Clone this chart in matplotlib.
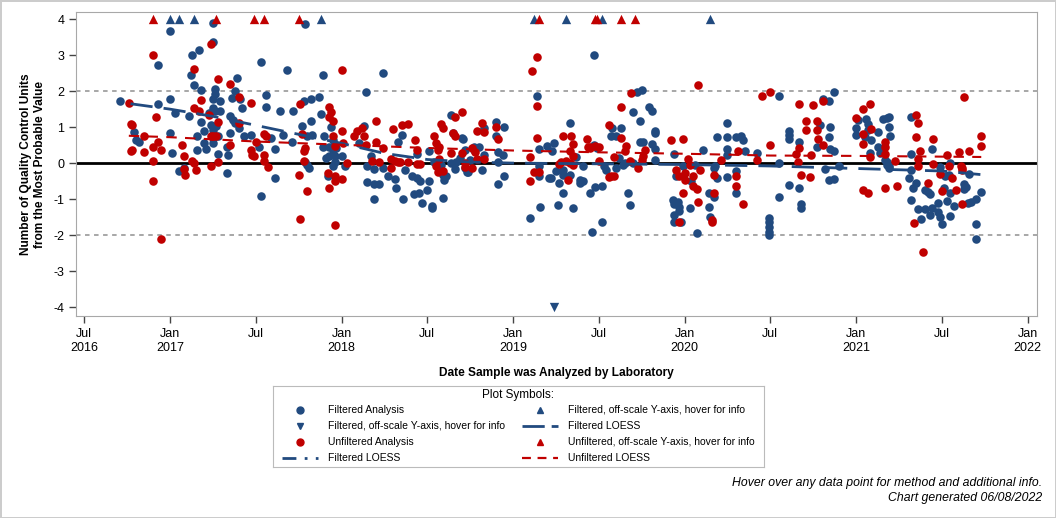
import matplotlib
matplotlib.use("Agg")
from matplotlib import pyplot as plt

plt.rcParams['font.family'] = ['Liberation Sans', 'DejaVu Sans']
plt.rcParams['axes.unicode_minus'] = False

# dates are decimal years
filt_x = [
    2016.71, 2016.79, 2016.80, 2016.82, 2016.93, 2016.93, 2017.0, 2017.0, 2017.0, 2017.01,
    2017.03, 2017.05, 2017.08, 2017.11, 2017.12, 2017.13, 2017.14, 2017.16, 2017.16, 2017.17,
    2017.18, 2017.18, 2017.2, 2017.2, 2017.21, 2017.23, 2017.24, 2017.25, 2017.25, 2017.25,
    2017.26, 2017.26, 2017.25, 2017.25, 2017.26, 2017.25, 2017.25, 2017.27, 2017.28, 2017.29,
    2017.29, 2017.28, 2017.33, 2017.33, 2017.34, 2017.35, 2017.35, 2017.36, 2017.37, 2017.38,
    2017.38, 2017.39, 2017.4, 2017.41, 2017.42, 2017.43, 2017.47, 2017.52, 2017.53, 2017.53,
    2017.56, 2017.56, 2017.59, 2017.61, 2017.61, 2017.64, 2017.66, 2017.68, 2017.71, 2017.72,
    2017.77, 2017.78, 2017.79, 2017.8, 2017.81, 2017.79, 2017.80, 2017.82, 2017.82, 2017.83,
    2017.87, 2017.88, 2017.89, 2017.89, 2017.9, 2017.91, 2017.92, 2017.93, 2017.93, 2017.94,
    2017.95, 2017.95, 2017.96, 2017.96, 2017.95, 2017.97,
    2018.0, 2018.02, 2018.1, 2018.13, 2018.14, 2018.15, 2018.15, 2018.17, 2018.19, 2018.19,
    2018.19, 2018.22, 2018.24, 2018.24, 2018.27, 2018.31, 2018.32, 2018.33, 2018.35, 2018.36,
    2018.37, 2018.41, 2018.42, 2018.44, 2018.45, 2018.46, 2018.47, 2018.44, 2018.5, 2018.51,
    2018.51, 2018.53, 2018.53, 2018.54, 2018.58, 2018.59, 2018.59, 2018.6, 2018.61, 2018.64,
    2018.64, 2018.65, 2018.66, 2018.67, 2018.69, 2018.7, 2018.71, 2018.72, 2018.72, 2018.73,
    2018.74, 2018.75, 2018.77, 2018.77, 2018.8, 2018.82, 2018.83, 2018.83, 2018.9, 2018.9,
    2018.91, 2018.91, 2018.91, 2018.94, 2018.95, 2018.95,
    2019.1, 2019.14, 2019.15, 2019.15, 2019.15, 2019.16, 2019.2, 2019.21, 2019.22, 2019.23,
    2019.24, 2019.25, 2019.26, 2019.27, 2019.29, 2019.29, 2019.29, 2019.33, 2019.33, 2019.35,
    2019.37, 2019.39, 2019.39, 2019.41, 2019.41, 2019.45, 2019.46, 2019.47, 2019.47, 2019.48,
    2019.49, 2019.52, 2019.52, 2019.53, 2019.54, 2019.57, 2019.58, 2019.6, 2019.6, 2019.62,
    2019.63, 2019.64, 2019.65, 2019.67, 2019.68, 2019.7, 2019.7, 2019.72, 2019.74, 2019.74,
    2019.75, 2019.76, 2019.79, 2019.81, 2019.81, 2019.83, 2019.83, 2019.83, 2019.83,
    2019.94, 2019.93, 2019.94, 2019.95, 2019.94, 2019.94, 2019.96, 2019.97, 2019.97, 2019.98,
    2019.99, 2020.03, 2020.04, 2020.07, 2020.06,
    2020.11, 2020.14, 2020.14, 2020.15, 2020.17, 2020.17, 2020.18, 2020.19, 2020.19, 2020.25,
    2020.25, 2020.25, 2020.25, 2020.25, 2020.3, 2020.3, 2020.3, 2020.33, 2020.34, 2020.35,
    2020.42, 2020.49, 2020.49, 2020.49, 2020.49, 2020.49, 2020.55, 2020.55, 2020.55, 2020.61,
    2020.61, 2020.61, 2020.61, 2020.67, 2020.68, 2020.68, 2020.67, 2020.77, 2020.79, 2020.81,
    2020.82, 2020.84, 2020.84, 2020.84, 2020.85, 2020.85, 2020.87, 2020.87, 2020.87, 2020.9,
    2021.0, 2021.0, 2021.01, 2021.05, 2021.06, 2021.07, 2021.07, 2021.08, 2021.09, 2021.13,
    2021.13, 2021.14, 2021.16, 2021.18, 2021.19, 2021.19, 2021.2, 2021.17, 2021.18, 2021.18,
    2021.19, 2021.19,
    2021.32, 2021.32, 2021.31, 2021.32, 2021.33, 2021.32, 2021.35, 2021.36, 2021.38, 2021.4,
    2021.4, 2021.42, 2021.43, 2021.43, 2021.44, 2021.44, 2021.48, 2021.48, 2021.49, 2021.5,
    2021.49, 2021.51, 2021.52, 2021.53, 2021.54, 2021.55, 2021.55, 2021.55, 2021.57, 2021.63,
    2021.63, 2021.64, 2021.65, 2021.66, 2021.67, 2021.7, 2021.7, 2021.7, 2021.73,
]
filt_y = [
    1.72, 0.87, 0.65, 0.6, 1.63, 2.74, 1.78, 3.68, 0.84, 0.28,
    1.39, -0.21, -0.15, 1.32, 2.46, 3.01, 2.16, 0.76, 0.37, 3.13,
    2.02, 1.13, 0.88, 0.56, 0.39, 1.39, 1.07, 0.91, 3.9, 3.37,
    2.06, 1.93, 1.78, 1.53, 1.44, 0.7, 0.56, 1.02, 0.26, 1.72,
    1.44, 0.74, -0.28, 0.46, 0.23, 0.84, 1.3, 1.81, 1.21, 2.0,
    1.12, 2.37, 0.98, 1.77, 1.53, 0.74, 0.79, 0.46, 2.82, -0.91,
    1.9, 1.56, 0.7, 0.39, -0.42, 1.46, 0.79, 2.6, 0.59, 1.46,
    1.02, 1.72, 0.03, -0.05, -0.14, 3.87, 0.74, 1.16, 1.78, 0.79,
    1.84, 1.37, 2.45, 0.46, 0.76, 0.14, -0.35, 0.46, 0.19, 1.0,
    0.65, 0.37, 0.19, 0.02, -0.09, 0.42,
    0.19, -0.09, 0.56, 1.04, 1.98, -0.09, -0.53, 0.19, -0.17, -0.58,
    -1.0, -0.58, -0.14, 2.51, -0.37, -0.45, -0.7, 0.6, 0.79, -1.0,
    -0.19, -0.35, -0.86, -0.42, -0.82, -0.51, -1.1, 0.25, -0.76, 0.35,
    -0.51, -1.25, -1.19, 0.02, -0.05, -0.33, -0.98, -0.46, -0.37, 1.35,
    0.0, 0.84, -0.17, 0.02, 0.14, 0.7, 0.67, -0.14, 0.37, -0.26,
    -0.26, 0.09, 0.46, 0.37, 0.46, -0.19, 0.98, 0.23, 1.13, 0.74,
    0.3, -0.59, 0.03, 0.22, 1.0, -0.35,
    -1.53, 1.87, 0.4, -0.09, -0.37, -1.21, 0.48, -0.42, -0.42, 0.33,
    0.56, -0.23, -1.16, -0.56, -0.19, -0.33, -0.84, 1.12, -0.33, -1.25,
    0.17, -0.46, -0.54, -0.51, -0.09, -0.84, -1.92, 3.01, 0.49, -0.67,
    0.42, -1.64, -0.65, -0.09, -0.19, 0.74, 0.98, 0.74, -0.14, 0.14,
    0.98, -0.05, 0.0, -0.82, -1.16, 1.42, 0.0, 1.97, 1.16, 0.58,
    2.02, 0.58, 1.56, 1.44, 0.54, 0.39, 0.84, 0.9, 0.09,
    0.26, -1.02, -1.13, -0.37, -1.44, -1.65, -1.07, -1.21, -1.32, -1.65,
    -0.09, -1.25, -0.51, -1.95, -0.05,
    0.37, -0.84, -1.23, -1.5, -0.93, -0.14, -0.09, 0.72, -0.42, 1.12,
    0.72, 0.39, -0.39, 0.23, 0.72, -0.23, -0.84, 0.76, 0.63, 0.33,
    0.28, -1.53, -1.65, -1.77, -1.91, -2.0, 1.86, -0.95, 0.0, 0.9,
    0.79, 0.67, -0.6, -0.68, -1.13, -1.25, 0.6, 0.45, 1.05, 1.77,
    -0.17, 1.72, -0.46, 0.72, 1.0, 0.39, 1.98, 0.35, -0.45, -0.07,
    0.98, 0.79, 1.21, 0.72, 1.23, 0.93, 1.09, 0.28, 0.65, 0.86,
    0.46, 0.28, 1.23, 1.25, 1.28, 1.0, 0.76, 0.09, 0.02, -0.05,
    -0.09, -0.14,
    1.28, 0.26, -0.42, -0.19, -0.7, -1.02, -0.54, -1.28, -1.56, -0.74,
    -1.28, -0.79, -0.86, -1.44, -1.25, 0.39, -1.12, -1.35, -1.5, -1.7,
    -0.11, -0.7, -0.37, -1.04, -0.33, 0.0, -0.82, -1.47, -1.19, -0.58,
    -0.72, -0.67, -1.1, -0.3, -1.07, -1.0, -1.7, -2.12, -0.81,
]

unf_x = [
    2016.76, 2016.77, 2016.78, 2016.77, 2016.78, 2016.85, 2016.85, 2016.9, 2016.9, 2016.9,
    2016.9, 2016.92, 2016.93, 2016.95, 2016.95, 2017.07, 2017.08, 2017.08, 2017.09, 2017.13,
    2017.14, 2017.14, 2017.14, 2017.15, 2017.17, 2017.18, 2017.23, 2017.24, 2017.24, 2017.24,
    2017.25, 2017.27, 2017.28, 2017.28, 2017.28, 2017.35, 2017.35, 2017.4, 2017.4, 2017.47,
    2017.47, 2017.48, 2017.49, 2017.5, 2017.55, 2017.55, 2017.55, 2017.56, 2017.57, 2017.75,
    2017.76, 2017.76, 2017.77, 2017.78, 2017.78, 2017.79, 2017.8, 2017.92, 2017.93, 2017.93,
    2017.93, 2017.94, 2017.95, 2017.95, 2017.96, 2017.96, 2017.96, 2017.96,
    2018.0, 2018.0, 2018.01, 2018.03, 2018.0, 2018.07, 2018.09, 2018.12, 2018.13, 2018.14,
    2018.18, 2018.2, 2018.2, 2018.22, 2018.24, 2018.29, 2018.29, 2018.3, 2018.31, 2018.33,
    2018.34, 2018.35, 2018.39, 2018.39, 2018.43, 2018.44, 2018.44, 2018.46, 2018.54, 2018.55,
    2018.55, 2018.56, 2018.56, 2018.57, 2018.57, 2018.58, 2018.59, 2018.59, 2018.64, 2018.65,
    2018.66, 2018.66, 2018.7, 2018.7, 2018.72, 2018.72, 2018.76, 2018.76, 2018.78, 2018.79,
    2018.79, 2018.82, 2018.83, 2018.83, 2018.9, 2018.91,
    2019.1, 2019.1, 2019.11, 2019.12, 2019.14, 2019.14, 2019.14, 2019.15, 2019.29, 2019.32,
    2019.33, 2019.33, 2019.34, 2019.35, 2019.35, 2019.35, 2019.27, 2019.28, 2019.31, 2019.43,
    2019.44, 2019.45, 2019.45, 2019.48, 2019.5, 2019.5, 2019.56, 2019.56, 2019.57, 2019.59,
    2019.59, 2019.63, 2019.63, 2019.65, 2019.66, 2019.68, 2019.69, 2019.73, 2019.75, 2019.76,
    2019.77, 2019.92, 2019.95, 2019.97, 2019.99, 2019.99, 2020.0, 2020.02, 2020.03, 2020.05,
    2020.07, 2020.08, 2020.08, 2019.97, 2020.0, 2020.05, 2020.09,
    2020.16, 2020.16, 2020.17, 2020.17, 2020.21, 2020.3, 2020.3, 2020.31, 2020.34, 2020.42,
    2020.45, 2020.5, 2020.5, 2020.65, 2020.66, 2020.67, 2020.67, 2020.68, 2020.71, 2020.71,
    2020.73, 2020.74, 2020.75, 2020.77, 2020.77, 2020.78, 2020.81, 2020.81,
    2021.0, 2021.04, 2021.04, 2021.04, 2021.04, 2021.07, 2021.08, 2021.08, 2021.09, 2021.17,
    2021.17, 2021.17, 2021.17, 2021.23, 2021.24, 2021.34, 2021.35, 2021.35, 2021.36, 2021.36,
    2021.36, 2021.37, 2021.39, 2021.42, 2021.45, 2021.45, 2021.49, 2021.5, 2021.53, 2021.54,
    2021.56, 2021.58, 2021.6, 2021.61, 2021.62, 2021.62, 2021.62, 2021.63, 2021.66, 2021.73,
    2021.73,
]
unf_y = [
    1.67, 1.1, 1.07, 0.33, 0.37, 0.74, 0.31, 3.01, 0.46, 0.05,
    -0.49, 1.28, 0.6, 0.37, -2.11, 0.49, 0.19, -0.17, -0.33, 0.05,
    0.0, 2.62, 1.53, -0.2, 1.44, 1.75, 1.35, 3.3, -0.07, 0.74,
    0.74, 0.74, 2.34, 1.13, 0.02, 2.2, 0.49, 1.84, 1.12, 1.67,
    0.37, 0.23, 0.19, 0.58, 0.81, 0.23, 0.07, 0.76, -0.11, -0.33,
    -1.55, 1.64, 0.81, 0.34, 0.05, 0.42, -0.77, -0.28, 1.28, 1.55,
    -0.7, 1.42, 0.74, 1.16, -0.37, -0.51, -1.72, 0.48,
    2.6, 0.9, 0.56, 0.0, -0.45, 0.74, 0.9, 0.98, 0.74, 0.49,
    0.05, 1.16, 0.6, 0.02, 0.42, 0.11, -0.14, 0.95, 0.07, 0.02,
    0.02, 1.05, 1.09, 0.02, 0.65, 0.37, -0.03, -0.02, 0.76, 0.56,
    -0.09, -0.25, 0.37, 0.11, 0.46, 1.1, 0.98, -0.23, 0.28, 0.84,
    0.76, 1.28, 1.42, 0.28, 0.0, -0.12, 0.42, -0.14, 0.3, 0.88,
    0.11, 1.12, 0.86, 0.11, 1.0, 0.67,
    0.16, -0.51, 2.56, -0.26, 2.96, 1.58, 0.7, -0.26, 0.74, -0.48,
    0.0, 0.35, 0.74, 0.54, 0.2, -0.05, -0.02, 0.03, 0.07, 0.67,
    0.45, 0.42, 0.46, 0.48, 0.46, 0.07, 1.07, -0.39, -0.35, -0.35,
    0.17, 0.7, 1.56, 0.35, 0.48, 0.07, 1.95, -0.14, 0.09, 0.2,
    0.37, 0.65, -0.19, -0.35, -0.82, 0.67, -0.28, 0.11, -0.05, -0.65,
    -0.72, -1.07, 2.18, -1.63, -0.46, -0.35, -0.2,
    -1.58, -1.63, -0.84, -0.33, 0.09, -0.37, -0.65, 0.33, -1.13, 0.09,
    1.86, 1.97, 0.51, 0.26, 0.03, 1.64, 0.42, -0.33, 1.16, 0.93,
    -0.39, 0.23, 1.62, 1.16, 0.93, 0.67, 1.72, 0.51,
    1.25, 1.49, 0.81, 0.54, -0.74, -0.82, 1.64, 0.17, 0.95, 0.6,
    0.46, 0.26, -0.68, 0.05, -0.63, -1.67, 0.72, 1.35, 1.12, 0.11,
    -0.09, 0.33, -2.48, -0.56, 0.67, -0.03, -0.3, -0.77, 0.23, -0.09,
    -0.42, -0.76, 0.3, -0.07, -0.14, -0.2, -1.14, 1.84, 0.35, 0.76,
    0.48,
]

# off-scale points, drawn at the axis edge
filt_up_x = [2017.0, 2017.05, 2017.14, 2017.88, 2019.12, 2019.31, 2019.52, 2020.15]
filt_down_x = [2019.24]
unf_up_x = [2016.9, 2017.27, 2017.49, 2017.55, 2017.75, 2019.15, 2019.48, 2019.49, 2019.63, 2019.71]

# LOESS curves
loess_f_x = [2016.77, 2017.0, 2017.25, 2017.5, 2017.75, 2018.0, 2018.25, 2018.5, 2018.75,
             2019.0, 2019.5, 2020.0, 2020.5, 2021.0, 2021.5, 2021.73]
loess_f_y = [1.65, 1.5, 1.3, 1.05, 0.8, 0.55, 0.27, 0.1, 0.03,
             0.0, -0.02, -0.04, -0.08, -0.15, -0.22, -0.32]
loess_u_x = [2016.76, 2017.0, 2017.5, 2018.0, 2018.5, 2019.0, 2019.5, 2020.0, 2020.5, 2021.0, 2021.73]
loess_u_y = [0.76, 0.72, 0.6, 0.51, 0.42, 0.35, 0.3, 0.26, 0.21, 0.2, 0.17]

tick_pos = [2016.5, 2017.0, 2017.5, 2018.0, 2018.5, 2019.0, 2019.5, 2020.0, 2020.5, 2021.0, 2021.5, 2022.0]
tick_lab = ["Jul\n2016", "Jan\n2017", "Jul", "Jan\n2018", "Jul", "Jan\n2019", "Jul",
            "Jan\n2020", "Jul", "Jan\n2021", "Jul", "Jan\n2022"]

blue = "#214a7f"
red = "#c00000"

fig = plt.figure(figsize=(10.56, 5.18), dpi=100)
fig.patch.set_edgecolor("#cccccc")
fig.patch.set_linewidth(2)
ax = fig.add_axes([76 / 1056, 1 - 316 / 518, 961 / 1056, 304 / 518])

ax.axhline(0, color="black", lw=2, zorder=2)
for yv in (2, -2):
    ax.axhline(yv, color="#a0a0a0", lw=1.3, ls=(0, (2.5, 2.5)), zorder=1)

ms = 38
ax.scatter(filt_x, filt_y, s=ms, color=blue, zorder=3, lw=0)
ax.scatter(unf_x, unf_y, s=ms, color=red, zorder=4, lw=0)
ax.scatter(filt_up_x, [4] * len(filt_up_x), marker="^", s=45, color=blue, lw=0, zorder=4)
ax.scatter(unf_up_x, [4] * len(unf_up_x), marker="^", s=45, color=red, lw=0, zorder=4)
ax.scatter(filt_down_x, [-4] * len(filt_down_x), marker="v", s=45, color=blue, lw=0, zorder=4)

ax.plot(loess_f_x, loess_f_y, color=blue, lw=2, ls=(0, (8, 4)), zorder=5)
ax.plot(loess_u_x, loess_u_y, color=red, lw=1.5, ls=(0, (5, 4)), zorder=5)

ax.set_xlim(2016.452, 2022.055)
ax.set_ylim(-4.25, 4.2)
ax.set_yticks(range(-4, 5))
ax.set_xticks(tick_pos)
ax.set_xticklabels(tick_lab)
ax.tick_params(colors="#444444", labelcolor="black", labelsize=9, length=5, width=1)
for s in ax.spines.values():
    s.set_color("#a8a8a8")

ax.set_ylabel("Number of Quality Control Units\nfrom the Most Probable Value",
              fontsize=8.6, fontweight="bold", labelpad=5)
ax.set_xlabel("Date Sample was Analyzed by Laboratory", fontsize=8.6, fontweight="bold", labelpad=10)

# legend box drawn in its own pixel-based axes
lax = fig.add_axes([273 / 1056, 1 - 467 / 518, 491 / 1056, 81 / 518])
lax.set_xlim(273, 764)
lax.set_ylim(467, 386)
lax.set_xticks([])
lax.set_yticks([])
for s in lax.spines.values():
    s.set_color("#bbbbbb")

lax.text(518, 395, "Plot Symbols:", ha="center", va="center", fontsize=8.5)
leg_rows = [410, 426, 442, 458]
leg_items = [
    # col, row, kind, color, label
    (0, 0, "o", blue, "Filtered Analysis"),
    (1, 0, "^", blue, "Filtered, off-scale Y-axis, hover for info"),
    (0, 1, "v", blue, "Filtered, off-scale Y-axis, hover for info"),
    (1, 1, (0, (8, 2.5)), blue, "Filtered LOESS"),
    (0, 2, "o", red, "Unfiltered Analysis"),
    (1, 2, "^", red, "Unfiltered, off-scale Y-axis, hover for info"),
    (0, 3, (0, (5, 3, 1, 3, 1, 3)), blue, "Filtered LOESS"),
    (1, 3, (0, (4, 3)), red, "Unfiltered LOESS"),
]
col_handle = [300, 540]
col_text = [328, 568]
for col, row, kind, color, label in leg_items:
    cx = col_handle[col]
    y = leg_rows[row]
    if isinstance(kind, str):
        lax.plot([cx], [y], marker=kind, color=color, ms=5, ls="")
    else:
        lax.plot([cx - 18, cx + 18], [y, y], color=color, lw=2 if color == blue else 1.6, ls=kind)
    lax.text(col_text[col], y, label, ha="left", va="center", fontsize=7.5)

fig.text(1042 / 1056, 1 - 483 / 518, "Hover over any data point for method and additional info.",
         ha="right", va="center", fontsize=8.8, style="italic")
fig.text(1042 / 1056, 1 - 498 / 518, "Chart generated 06/08/2022",
         ha="right", va="center", fontsize=8.8, style="italic")

fig.savefig("out.png", dpi=100)
